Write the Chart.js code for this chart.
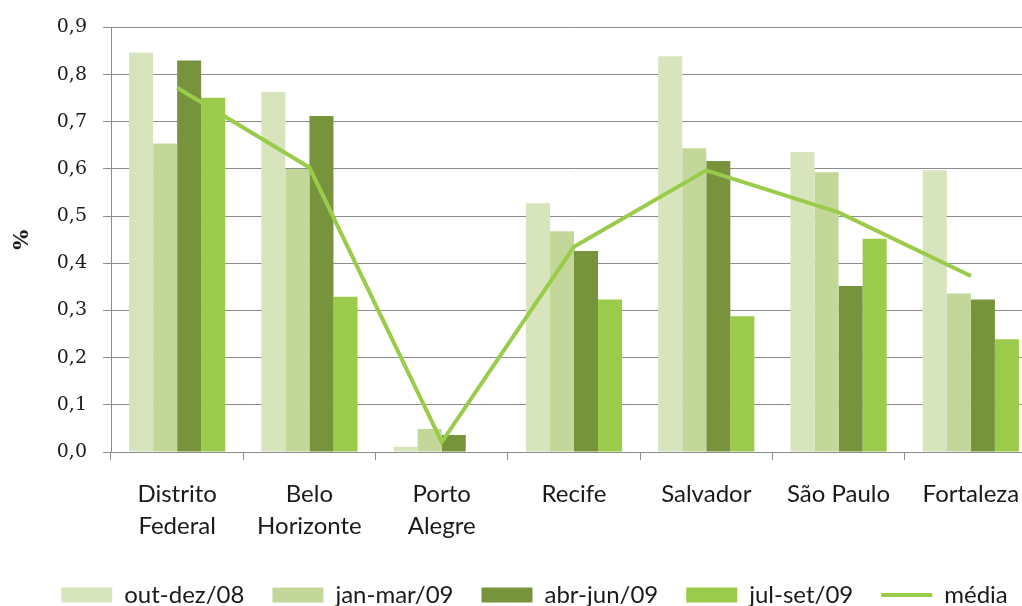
<!DOCTYPE html>
<html>
<head>
<meta charset="utf-8">
<script src="https://cdn.jsdelivr.net/npm/chart.js@4.4.0/dist/chart.umd.min.js"></script>
<style>
  html, body { margin: 0; padding: 0; background: #fff; overflow: hidden; }
  #wrap { width: 1040px; height: 619px; }
</style>
</head>
<body>
<div id="wrap"><canvas id="chart" width="1040" height="619"></canvas></div>
<script>
// Categories (cities)
const cities = [
    ['Distrito', 'Federal'],
    ['Belo', 'Horizonte'],
    ['Porto', 'Alegre'],
    'Recife',
    'Salvador',
    'São Paulo',
    'Fortaleza'
];

// Quarterly values (%)
const outDez08 = [0.847, 0.763, 0.011, 0.527, 0.839, 0.636, 0.597];
const janMar09 = [0.654, 0.600, 0.049, 0.468, 0.644, 0.593, 0.336];
const abrJun09 = [0.830, 0.712, 0.036, 0.426, 0.617, 0.352, 0.323];
const julSet09 = [0.751, 0.329, 0.0, 0.323, 0.288, 0.452, 0.239];
const media    = [0.772, 0.603, 0.021, 0.435, 0.597, 0.508, 0.373];

const seriesNames = ['out-dez/08', 'jan-mar/09', 'abr-jun/09', 'jul-set/09', 'média'];
const yTicks = [0, 0.1, 0.2, 0.3, 0.4, 0.5, 0.6, 0.7, 0.8, 0.9];

const colors = ['#d8e4bc', '#c4d79b', '#77933c', '#9bcb4b'];
const lineColor = '#9bcb4b';
const gridColor = '#8c8c8c';
const textColor = '#1a1a1a';
const sansFont = 'Lato, "Open Sans", sans-serif';
const serifFont = '"DejaVu Serif", "Liberation Serif", serif';

function barSet(label, data, color) {
    return {
        type: 'bar',
        label: label,
        data: data,
        backgroundColor: color,
        borderWidth: 0,
        categoryPercentage: 0.727,
        barPercentage: 1.0,
        order: 1
    };
}

new Chart(document.getElementById('chart'), {
    data: {
        labels: cities,
        datasets: [
            barSet(seriesNames[0], outDez08, colors[0]),
            barSet(seriesNames[1], janMar09, colors[1]),
            barSet(seriesNames[2], abrJun09, colors[2]),
            barSet(seriesNames[3], julSet09, colors[3]),
            {
                type: 'line',
                label: seriesNames[4],
                data: media,
                borderColor: lineColor,
                backgroundColor: lineColor,
                borderWidth: 4,
                pointRadius: 0,
                tension: 0,
                order: 0
            }
        ]
    },
    options: {
        responsive: false,
        animation: false,
        devicePixelRatio: 1,
        layout: {
            padding: { left: 32, right: 3, top: 24, bottom: 2 }
        },
        scales: {
            x: {
                grid: {
                    offset: true,
                    drawOnChartArea: false,
                    color: gridColor,
                    tickLength: 8
                },
                border: { color: gridColor, width: 1 },
                ticks: {
                    color: textColor,
                    font: { family: sansFont, size: 24, lineHeight: 1.3 },
                    maxRotation: 0,
                    autoSkip: false,
                    padding: 19
                },
                afterFit: function(scale) { scale.height = 103; }
            },
            y: {
                min: 0,
                max: 0.9,
                afterBuildTicks: function(scale) {
                    scale.ticks = yTicks.map(v => ({ value: v }));
                },
                grid: {
                    color: gridColor,
                    tickLength: 8
                },
                border: { color: gridColor, width: 1 },
                ticks: {
                    color: textColor,
                    font: { family: serifFont, size: 19 },
                    padding: 16,
                    callback: function(value) {
                        return value.toFixed(1).replace('.', ',');
                    }
                },
                title: {
                    display: true,
                    text: '%',
                    color: textColor,
                    font: { family: serifFont, size: 21, weight: 'bold' },
                    padding: { top: -22, bottom: 0 }
                },
                afterFit: function(scale) { scale.width = 79; }
            }
        },
        plugins: {
            legend: {
                position: 'bottom',
                labels: {
                    color: textColor,
                    font: { family: sansFont, size: 24 },
                    usePointStyle: true,
                    pointStyleWidth: 51,
                    boxHeight: 15,
                    padding: 28,
                    sort: function(a, b) { return a.datasetIndex - b.datasetIndex; },
                    generateLabels: function(chart) {
                        const items = Chart.defaults.plugins.legend.labels.generateLabels(chart);
                        items.forEach(item => {
                            if (item.datasetIndex === 4) {
                                item.pointStyle = 'line';
                                item.strokeStyle = lineColor;
                                item.lineWidth = 4;
                            } else {
                                item.pointStyle = 'rect';
                                item.lineWidth = 0;
                            }
                        });
                        return items;
                    }
                }
            },
            tooltip: { enabled: false }
        }
    }
});
</script>
</body>
</html>
